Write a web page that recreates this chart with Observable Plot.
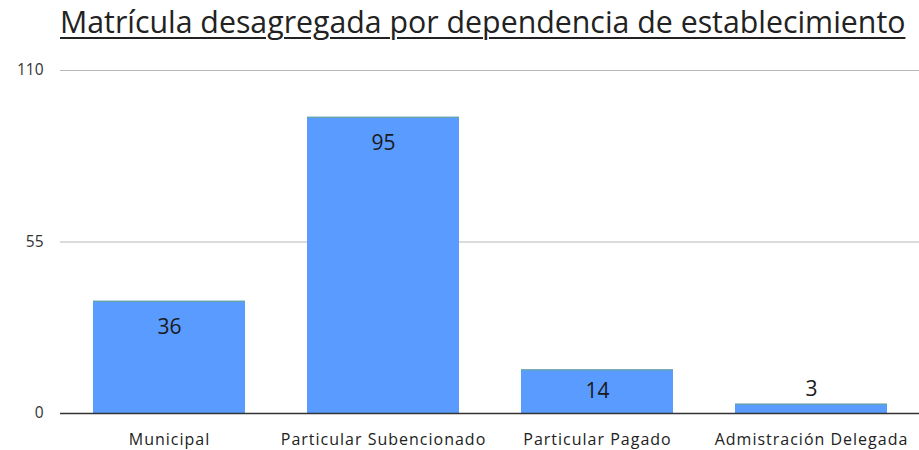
<!DOCTYPE html>
<html><head><meta charset="utf-8">
<script src="https://cdn.jsdelivr.net/npm/d3@7"></script>
<script src="https://cdn.jsdelivr.net/npm/@observablehq/plot@0.6"></script>
<style>
body{margin:0;background:#fff;font-family:"Open Sans",sans-serif;}
#title{height:50px;width:919px;position:relative;}
#title span{position:absolute;left:60px;top:1px;font-size:30.3px;color:#222;text-decoration:underline;text-decoration-thickness:1.5px;text-underline-offset:4px;white-space:nowrap;}
</style></head>
<body>
<div id="title"><span>Matrícula desagregada por dependencia de establecimiento</span></div>
<div id="chart"></div>
<script>
const categories = ["Municipal", "Particular Subencionado", "Particular Pagado", "Admistración Delegada"];
const values = [36, 95, 14, 3];
const yTicks = [0, 55, 110];

const data = categories.map((c, i) => ({category: c, value: values[i]}));

const chart = Plot.plot({
  width: 919,
  height: 400,
  marginLeft: 60,
  marginRight: 0,
  marginTop: 20,
  marginBottom: 37,
  style: {fontFamily: "Open Sans", background: "#fff"},
  x: {domain: categories, paddingInner: 0.29, paddingOuter: 0.145, label: null},
  y: {domain: [0, 110], label: null},
  marks: [
    Plot.ruleY(yTicks.filter(t => t > 0), {stroke: "#b8b8b8", strokeWidth: 1.2}),
    Plot.barY(data, {x: "category", y: "value", fill: "#5a9bff"}),
    Plot.tickY(data, {x: "category", y: "value", stroke: "#6aa88a", strokeWidth: 1}),
    Plot.ruleY([0], {stroke: "#333", strokeWidth: 1.5}),
    Plot.text(data.filter(d => d.value >= 10), {x: "category", y: d => Math.max(d.value - 8.34, d.value / 2), text: d => String(d.value), fontSize: 21, fill: "#1a1a1a"}),
    Plot.text(data.filter(d => d.value < 10), {x: "category", y: "value", dy: -15, text: d => String(d.value), fontSize: 21, fill: "#1a1a1a"}),
    Plot.axisY({ticks: yTicks, tickSize: 0, tickPadding: 17, fontSize: 15.5, fill: "#333", label: null}),
    Plot.axisX({tickSize: 0, tickPadding: 20, fontSize: 16, fill: "#222", label: null})
  ]
});
chart.querySelectorAll('g[aria-label="x-axis tick label"] text').forEach(t => t.setAttribute("letter-spacing", "1"));
document.getElementById("chart").appendChild(chart);
</script>
</body></html>
